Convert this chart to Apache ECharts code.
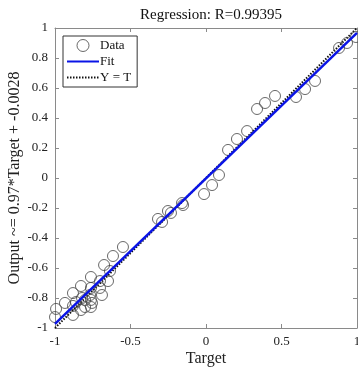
<!DOCTYPE html>
<html><head><meta charset="utf-8">
<script src="https://cdn.jsdelivr.net/npm/echarts@6/dist/echarts.min.js"></script>
<style>html,body{margin:0;padding:0;background:#fff}#c{width:358px;height:368px}</style>
</head><body><div id="c"></div>
<script>
const titleText = 'Regression: R=0.99395';
const xName = 'Target';
const yName = 'Output ~= 0.97*Target + -0.0028';
const targets = [0.993,0.934,0.881,0.722,0.656,0.596,0.457,0.391,0.338,0.272,0.205,0.146,0.086,0.04,-0.013,-0.159,-0.152,-0.232,-0.252,-0.291,-0.318,-0.55,-0.616,-0.675,-0.636,-0.762,-0.702,-0.649,-0.828,-0.762,-0.702,-0.881,-0.768,-0.689,-0.861,-0.801,-0.762,-0.934,-0.801,-0.762,-0.881,-0.828,-0.881,-0.993,-1.0,-0.755,-0.821];
const outputs = [0.94,0.90,0.867,0.647,0.593,0.54,0.547,0.50,0.46,0.313,0.26,0.187,0.02,-0.047,-0.107,-0.167,-0.18,-0.233,-0.22,-0.293,-0.273,-0.46,-0.52,-0.58,-0.62,-0.66,-0.687,-0.687,-0.72,-0.733,-0.733,-0.767,-0.78,-0.78,-0.827,-0.813,-0.813,-0.833,-0.86,-0.86,-0.853,-0.88,-0.913,-0.873,-0.927,-0.833,-0.8];
const fitX = [-1, 1];
const fitY = [-0.9728, 0.9672];
const identX = [-1, 1];
const identY = [-1, 1];
const seriesNames = ['Data', 'Fit', 'Y = T'];

const font = 'Liberation Serif';
const axisCol = '#8a8a8a';
const chart = echarts.init(document.getElementById('c'));
const baseAxis = {
  min: -1, max: 1,
  axisLine: {show: true, onZero: false, lineStyle: {color: axisCol, width: 1}},
  axisTick: {show: true, inside: true, length: 4, lineStyle: {color: axisCol}},
  splitLine: {show: false},
  axisLabel: {fontFamily: font, fontSize: 13, color: '#222'}
};
chart.setOption({
  animation: false,
  title: {text: titleText, left: 206, top: 3, textAlign: 'center',
    textStyle: {fontFamily: font, fontSize: 15, fontWeight: 'normal', color: '#111'}},
  grid: {left: 55, right: 1, top: 28, bottom: 40, outerBoundsMode: 'none', containLabel: false},
  legend: {
    orient: 'vertical', left: 63, top: 36, itemWidth: 32, itemHeight: 12, itemGap: 3,
    padding: [3, 6, 3, 3], borderColor: '#333', borderWidth: 1, backgroundColor: '#fff',
    textStyle: {fontFamily: font, fontSize: 13, color: '#111', padding: [0,0,0,-4]},
    data: [
      {name: seriesNames[0], itemStyle: {color: 'rgba(0,0,0,0)', borderColor: '#444', borderWidth: 1}},
      {name: seriesNames[1], itemStyle: {opacity: 0}},
      {name: seriesNames[2], itemStyle: {opacity: 0}}
    ]
  },
  xAxis: [
    Object.assign({}, baseAxis, {type: 'value', position: 'bottom', interval: 0.5,
      name: xName, nameLocation: 'middle', nameGap: 23, nameMoveOverlap: false,
      nameTextStyle: {fontFamily: font, fontSize: 16, color: '#222'},
      axisLabel: Object.assign({}, baseAxis.axisLabel, {margin: 7})}),
    Object.assign({}, baseAxis, {type: 'value', position: 'top', interval: 0.5, axisLabel: {show: false}})
  ],
  yAxis: [
    Object.assign({}, baseAxis, {type: 'value', position: 'left', interval: 0.2,
      name: yName, nameLocation: 'middle', nameGap: 32, nameMoveOverlap: false,
      nameTextStyle: {fontFamily: font, fontSize: 16, color: '#222'},
      axisLabel: Object.assign({}, baseAxis.axisLabel, {margin: 7,
        formatter: v => String(Math.round(v*10)/10)})}),
    Object.assign({}, baseAxis, {type: 'value', position: 'right', interval: 0.2, axisLabel: {show: false}})
  ],
  series: [
    {name: seriesNames[0], type: 'scatter', symbol: 'circle', symbolSize: 11,
      itemStyle: {color: 'rgba(0,0,0,0)', borderColor: '#444', borderWidth: 1},
      data: targets.map((t, i) => [t, outputs[i]]), z: 3},
    {name: seriesNames[1], type: 'line', showSymbol: false, symbol: 'none',
      lineStyle: {color: '#0a14e6', width: 2.5}, itemStyle: {color: '#0a14e6'},
      data: fitX.map((x, i) => [x, fitY[i]]), z: 4},
    {name: seriesNames[2], type: 'line', showSymbol: false, symbol: 'none',
      lineStyle: {color: '#111', width: 2, type: [1.5, 1.5]}, itemStyle: {color: '#111'},
      data: identX.map((x, i) => [x, identY[i]]), z: 2}
  ]
});
</script></body></html>
